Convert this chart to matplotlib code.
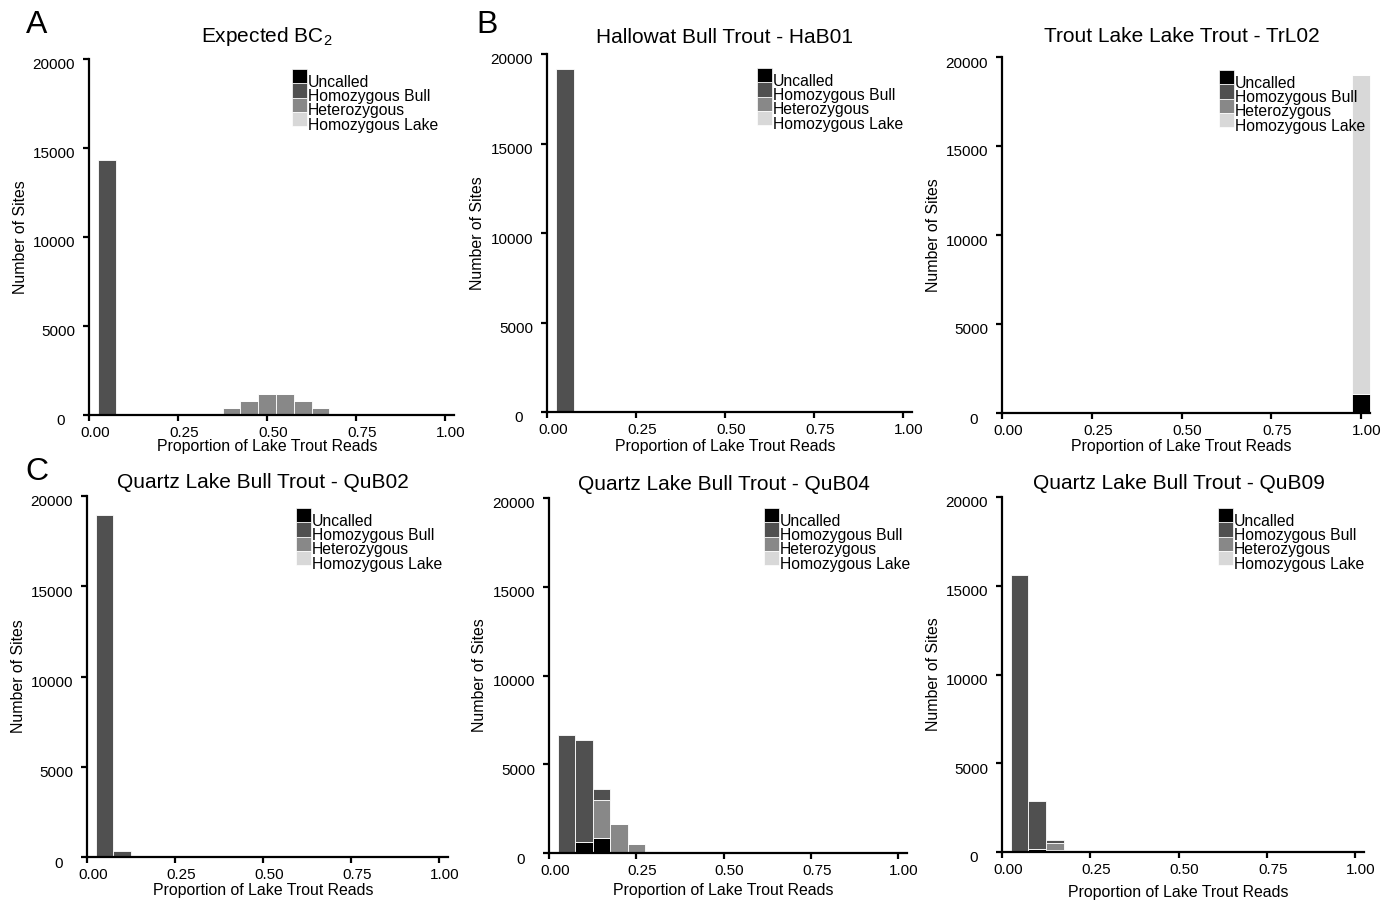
import matplotlib
matplotlib.use("Agg")
import matplotlib.pyplot as plt
import matplotlib.transforms as mtransforms
from matplotlib.patches import Rectangle

plt.rcParams.update({
    "font.family": "Liberation Sans",
    "mathtext.fontset": "custom",
    "mathtext.rm": "Liberation Sans",
    "mathtext.it": "Liberation Sans:italic",
})

# ---- data: 20 bins of width 0.05, centred at 0.05 ... 1.00 ----
bin_centers = [0.05, 0.10, 0.15, 0.20, 0.25, 0.30, 0.35, 0.40, 0.45, 0.50,
               0.55, 0.60, 0.65, 0.70, 0.75, 0.80, 0.85, 0.90, 0.95, 1.00]

categories = ["Uncalled", "Homozygous Bull", "Heterozygous", "Homozygous Lake"]
cat_colors = ["#000000", "#505050", "#888888", "#d8d8d8"]

titles = ["Expected BC$_2$", "Hallowat Bull Trout - HaB01", "Trout Lake Lake Trout - TrL02",
          "Quartz Lake Bull Trout - QuB02", "Quartz Lake Bull Trout - QuB04",
          "Quartz Lake Bull Trout - QuB09"]

# Expected BC2
a_uncalled = [0] * 20
a_bull = [14340, 0, 0, 0, 0, 0, 0, 0, 0, 0, 0, 0, 0, 0, 0, 0, 0, 0, 0, 0]
a_het = [0, 0, 0, 0, 0, 0, 0, 410, 800, 1180, 1180, 800, 410, 0, 0, 0, 0, 0, 0, 0]
a_lake = [0] * 20

# HaB01
b_uncalled = [0] * 20
b_bull = [19160, 0, 0, 0, 0, 0, 0, 0, 0, 0, 0, 0, 0, 0, 0, 0, 0, 0, 0, 0]
b_het = [0] * 20
b_lake = [0] * 20

# TrL02
c_uncalled = [0, 0, 0, 0, 0, 0, 0, 0, 0, 0, 0, 0, 0, 0, 0, 0, 0, 0, 0, 1070]
c_bull = [0] * 20
c_het = [0] * 20
c_lake = [0, 0, 0, 0, 0, 0, 0, 0, 0, 0, 0, 0, 0, 0, 0, 0, 0, 0, 0, 17920]

# QuB02
d_uncalled = [0] * 20
d_bull = [18950, 350, 70, 0, 0, 0, 0, 0, 0, 0, 0, 0, 0, 0, 0, 0, 0, 0, 0, 0]
d_het = [0, 0, 10, 15, 10, 10, 8, 8, 6, 6, 5, 5, 5, 5, 5, 5, 5, 5, 5, 5]
d_lake = [0] * 20

# QuB04
e_uncalled = [0, 600, 860, 0, 0, 0, 0, 0, 0, 0, 0, 0, 0, 0, 0, 0, 0, 0, 0, 0]
e_bull = [6670, 5790, 620, 40, 0, 0, 0, 0, 0, 0, 0, 0, 0, 0, 0, 0, 0, 0, 0, 0]
e_het = [0, 0, 2145, 1610, 510, 120, 60, 35, 30, 28, 25, 22, 20, 20, 18, 18, 16, 16, 15, 15]
e_lake = [0] * 20

# QuB09
f_uncalled = [0, 150, 140, 0, 0, 0, 0, 0, 0, 0, 0, 0, 0, 0, 0, 0, 0, 0, 0, 0]
f_bull = [15590, 2700, 170, 0, 0, 0, 0, 0, 0, 0, 0, 0, 0, 0, 0, 0, 0, 0, 0, 0]
f_het = [0, 0, 340, 95, 20, 10, 8, 6, 5, 5, 5, 5, 5, 5, 5, 5, 5, 5, 5, 5]
f_lake = [0] * 20

panel_data = [
    (a_uncalled, a_bull, a_het, a_lake),
    (b_uncalled, b_bull, b_het, b_lake),
    (c_uncalled, c_bull, c_het, c_lake),
    (d_uncalled, d_bull, d_het, d_lake),
    (e_uncalled, e_bull, e_het, e_lake),
    (f_uncalled, f_bull, f_het, f_lake),
]

# ---- layout (pixels): left spine, x=1.0, y=20000, y=0 ----
W, H = 1397, 909
geom = [
    (89, 445, 59, 415),
    (547, 903, 54, 412),
    (1002, 1361, 57, 413),
    (87, 439, 496, 857),
    (549, 898, 498, 853),
    (1002, 1355, 497, 852),
]
legend_pos = [(292, 69), (757, 68), (1219, 70), (296, 508), (764, 508), (1218, 508)]
title_pad = [12, 8, 10.5, 5.5, 5.5, 5.5]
xlabel_off = [32, 34, 33, 33, 38, 41]
XMAX = 1.025

fig = plt.figure(figsize=(W / 100, H / 100), dpi=100, facecolor="white")


def px_off(dx, dy):
    return mtransforms.ScaledTranslation(dx / 100, -dy / 100, fig.dpi_scale_trans)


for k in range(6):
    left, right1, top, bottom = geom[k]
    ax = fig.add_axes([left / W, 1 - bottom / H, (right1 - left) * XMAX / W, (bottom - top) / H])
    unc, bull, het, lake = panel_data[k]

    # stacked from bottom: uncalled, lake, het, bull
    base = [0] * 20
    for vals, col in [(unc, cat_colors[0]), (lake, cat_colors[3]),
                      (het, cat_colors[2]), (bull, cat_colors[1])]:
        ax.bar(bin_centers, vals, width=0.05, bottom=base, color=col,
               edgecolor="white", linewidth=0.6, clip_on=False)
        base = [b + v for b, v in zip(base, vals)]

    ax.set_xlim(0, XMAX)
    ax.set_ylim(0, 20000)
    ax.set_xticks([0, 0.25, 0.5, 0.75, 1.0])
    ax.set_xticklabels(["0.00", "0.25", "0.50", "0.75", "1.00"])
    ax.set_yticks([0, 5000, 10000, 15000, 20000])
    ax.set_yticklabels(["0", "5000", "10000", "15000", "20000"])

    for s in ["top", "right"]:
        ax.spines[s].set_visible(False)
    for s in ["left", "bottom"]:
        ax.spines[s].set_linewidth(1.6)
    ax.tick_params(axis="both", length=4, width=1.6, labelsize=11)
    ax.tick_params(axis="x", pad=4)
    ax.tick_params(axis="y", pad=6)

    for t in ax.xaxis.get_major_ticks():
        t.label1.set_transform(t.label1.get_transform() + px_off(6, 0))
    for i, t in enumerate(ax.yaxis.get_major_ticks()):
        dx = -10 if i == 0 else 0
        t.label1.set_transform(t.label1.get_transform() + px_off(dx, 5))

    ax.set_title(titles[k], fontsize=15, pad=title_pad[k])
    ax.title.set_x(0.5 / XMAX)

    ax.set_xlabel("Proportion of Lake Trout Reads", fontsize=11.4)
    ax.xaxis.set_label_coords(0.5 / XMAX, -xlabel_off[k] / (bottom - top))
    ax.xaxis.label.set_va("center")
    ax.set_ylabel("Number of Sites", fontsize=11.4)
    ax.yaxis.set_label_coords(-69 / ((right1 - left) * XMAX), 0.5)
    ax.yaxis.label.set_va("center")

    # legend: stacked swatches
    lx, ly = legend_pos[k]
    row = 14.3
    for i, (name, col) in enumerate(zip(categories, cat_colors)):
        y0 = ly + i * row
        fig.add_artist(Rectangle((lx / W, 1 - (y0 + row) / H), 15 / W, row / H,
                                 transform=fig.transFigure, facecolor=col,
                                 edgecolor="white", linewidth=0.5))
        fig.text((lx + 16) / W, 1 - (y0 + row / 2 + 6) / H, name,
                 fontsize=11.3, va="center", ha="left")

# panel letters
fig.text(37 / W, 1 - 25 / H, "A", fontsize=23, ha="center", va="center")
fig.text(487 / W, 1 - 25 / H, "B", fontsize=23, ha="center", va="center")
fig.text(37 / W, 1 - 472 / H, "C", fontsize=23, ha="center", va="center")

fig.savefig("out.png", dpi=100, facecolor="white")
